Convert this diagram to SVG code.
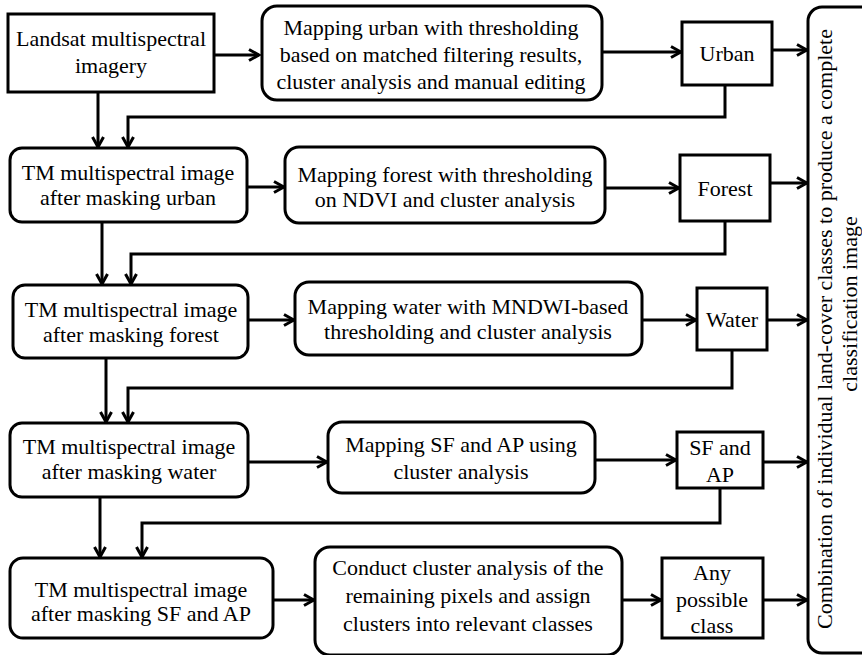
<svg xmlns="http://www.w3.org/2000/svg" width="862" height="655" viewBox="0 0 862 655" font-family="'Liberation Serif', 'Times New Roman', serif" font-size="22">
<defs>
<marker id="ah" viewBox="0 0 13 14" refX="11.5" refY="7" markerWidth="13" markerHeight="14" markerUnits="userSpaceOnUse" orient="auto">
<path d="M1.5,1.5 L11.5,7 L1.5,12.5" fill="none" stroke="#000" stroke-width="3"/>
</marker>
</defs>
<rect width="862" height="655" fill="#fff"/>

<g id="connectors" fill="none" stroke="#000" stroke-width="3" marker-end="url(#ah)">
<path d="M215,55 H259"/>
<path d="M602,52 H681"/>
<path d="M772,50 H807"/>
<path d="M98,92 V147"/>
<path d="M725,85 V117 H128 V147"/>
<path d="M247,187 H284"/>
<path d="M605,188 H679"/>
<path d="M770,183 H807"/>
<path d="M102,222 V284"/>
<path d="M725,221 V254 H131 V284"/>
<path d="M248,320 H294"/>
<path d="M642,320 H696"/>
<path d="M767,320 H807"/>
<path d="M106,358 V422"/>
<path d="M732,350 V388 H128 V422"/>
<path d="M248,462 H327"/>
<path d="M595,460 H676"/>
<path d="M763,462 H807"/>
<path d="M100,497 V557"/>
<path d="M720,488 V523 H142 V557"/>
<path d="M273,600 H314"/>
<path d="M622,600 H661"/>
<path d="M763,600 H807"/>
</g>

<g id="landsat">
<rect fill="#fff" stroke="#000" stroke-width="3" x="8" y="14" width="206" height="78"/>
<text font-family="serif" text-anchor="middle" x="111" y="46">Landsat multispectral</text>
<text font-family="serif" text-anchor="middle" x="111" y="73">imagery</text>
</g>
<g id="map-urban">
<rect fill="#fff" stroke="#000" stroke-width="3" x="262" y="6" width="340" height="94" rx="15"/>
<text font-family="serif" text-anchor="middle" x="431" y="35">Mapping urban with thresholding</text>
<text font-family="serif" text-anchor="middle" x="431" y="62">based on matched filtering results,</text>
<text font-family="serif" text-anchor="middle" x="431" y="89">cluster analysis and manual editing</text>
</g>
<g id="urban">
<rect fill="#fff" stroke="#000" stroke-width="3" x="682" y="22" width="90" height="63"/>
<text font-family="serif" text-anchor="middle" x="727" y="61">Urban</text>
</g>

<g id="tm-urban">
<rect fill="#fff" stroke="#000" stroke-width="3" x="10" y="148" width="237" height="74" rx="12"/>
<text font-family="serif" text-anchor="middle" x="128" y="180">TM multispectral image</text>
<text font-family="serif" text-anchor="middle" x="128" y="205">after masking urban</text>
</g>
<g id="map-forest">
<rect fill="#fff" stroke="#000" stroke-width="3" x="285" y="147" width="320" height="76" rx="14"/>
<text font-family="serif" text-anchor="middle" x="445" y="182">Mapping forest with thresholding</text>
<text font-family="serif" text-anchor="middle" x="445" y="207">on NDVI and cluster analysis</text>
</g>
<g id="forest">
<rect fill="#fff" stroke="#000" stroke-width="3" x="680" y="155" width="90" height="66"/>
<text font-family="serif" text-anchor="middle" x="725" y="196">Forest</text>
</g>

<g id="tm-forest">
<rect fill="#fff" stroke="#000" stroke-width="3" x="13" y="285" width="235" height="73" rx="12"/>
<text font-family="serif" text-anchor="middle" x="131" y="317">TM multispectral image</text>
<text font-family="serif" text-anchor="middle" x="131" y="342">after masking forest</text>
</g>
<g id="map-water">
<rect fill="#fff" stroke="#000" stroke-width="3" x="295" y="282" width="347" height="73" rx="14"/>
<text font-family="serif" text-anchor="middle" x="468" y="314">Mapping water with MNDWI-based</text>
<text font-family="serif" text-anchor="middle" x="468" y="339">thresholding and cluster analysis</text>
</g>
<g id="water">
<rect fill="#fff" stroke="#000" stroke-width="3" x="697" y="288" width="70" height="62"/>
<text font-family="serif" text-anchor="middle" x="732" y="327">Water</text>
</g>

<g id="tm-water">
<rect fill="#fff" stroke="#000" stroke-width="3" x="10" y="423" width="238" height="74" rx="12"/>
<text font-family="serif" text-anchor="middle" x="129" y="454">TM multispectral image</text>
<text font-family="serif" text-anchor="middle" x="129" y="479">after masking water</text>
</g>
<g id="map-sfap">
<rect fill="#fff" stroke="#000" stroke-width="3" x="328" y="422" width="267" height="71" rx="14"/>
<text font-family="serif" text-anchor="middle" x="461" y="452">Mapping SF and AP using</text>
<text font-family="serif" text-anchor="middle" x="461" y="479">cluster analysis</text>
</g>
<g id="sfap">
<rect fill="#fff" stroke="#000" stroke-width="3" x="677" y="432" width="86" height="56"/>
<text font-family="serif" text-anchor="middle" x="720" y="455">SF and</text>
<text font-family="serif" text-anchor="middle" x="720" y="482">AP</text>
</g>

<g id="tm-sfap">
<rect fill="#fff" stroke="#000" stroke-width="3" x="10" y="558" width="263" height="80" rx="13"/>
<text font-family="serif" text-anchor="middle" x="141" y="597">TM multispectral image</text>
<text font-family="serif" text-anchor="middle" x="141" y="621">after masking SF and AP</text>
</g>
<g id="conduct">
<rect fill="#fff" stroke="#000" stroke-width="3" x="315" y="547" width="307" height="108" rx="15"/>
<text font-family="serif" text-anchor="middle" x="468" y="575">Conduct cluster analysis of the</text>
<text font-family="serif" text-anchor="middle" x="468" y="603">remaining pixels and assign</text>
<text font-family="serif" text-anchor="middle" x="468" y="631">clusters into relevant classes</text>
</g>
<g id="any">
<rect fill="#fff" stroke="#000" stroke-width="3" x="662" y="558" width="101" height="80"/>
<text font-family="serif" text-anchor="middle" x="712" y="580">Any</text>
<text font-family="serif" text-anchor="middle" x="712" y="607">possible</text>
<text font-family="serif" text-anchor="middle" x="712" y="633">class</text>
</g>

<g id="combination">
<rect fill="#fff" stroke="#000" stroke-width="3" x="808" y="7" width="80" height="646" rx="14"/>
<text font-family="serif" text-anchor="middle" transform="translate(832,329) rotate(-90)">Combination of individual land-cover classes to produce a complete</text>
<text font-family="serif" text-anchor="middle" transform="translate(857,304) rotate(-90)">classification image</text>
</g>
</svg>
